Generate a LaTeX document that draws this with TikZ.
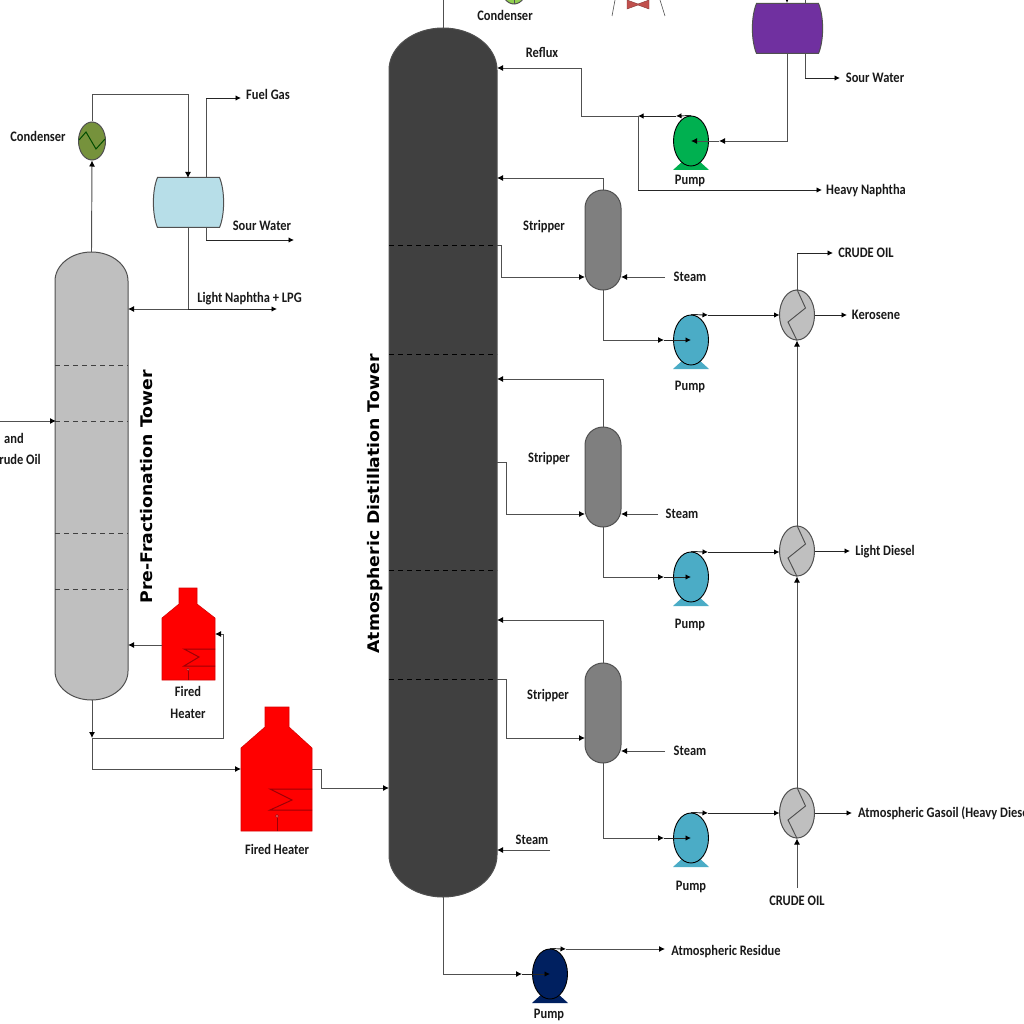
\documentclass[tikz,border=0pt]{standalone}
\usepackage{fontspec}
\setmainfont{Carlito}[FakeStretch=0.86]
\newfontfamily\towerfont{DejaVu Sans}[FakeStretch=1.08]
\usetikzlibrary{arrows.meta,shapes.geometric}
\definecolor{linegray}{HTML}{505050}
\definecolor{towerdark}{HTML}{404040}
\definecolor{towerlight}{HTML}{BFBFBF}
\definecolor{stripgray}{HTML}{7F7F7F}
\definecolor{coilred}{HTML}{9C0006}
\definecolor{pumpteal}{HTML}{4BACC6}
\definecolor{pumpgreen}{HTML}{00B050}
\definecolor{pumpnavy}{HTML}{002060}
\definecolor{condolive}{HTML}{76923C}
\definecolor{condlime}{HTML}{92D050}
\definecolor{drumblue}{HTML}{B7DEE8}
\definecolor{drumpurple}{HTML}{7030A0}
\definecolor{valvered}{HTML}{C0504D}
\tikzset{
  pipe/.style={draw=linegray,line width=0.95pt},
  flow/.style={pipe,-{Latex[length=6pt,width=6pt,black]}},
  outflow/.style={draw=black!85,line width=0.95pt,-{Latex[length=5.5pt,width=5.5pt,black]}},
  lab/.style={font=\fontsize{14.5}{15}\selectfont\bfseries,inner sep=0pt,text=black!90,align=center,text height=11pt,text depth=2pt},
  towerlab/.style={font=\fontsize{16}{17}\towerfont\bfseries,inner sep=0pt,rotate=90},
  tray/.style={draw=black!75,line width=0.8pt,dash pattern=on 5pt off 4pt},
  wall/.style={draw=linegray,line width=1pt},
  pumpcase/.style={ellipse,draw=black,line width=0.9pt,minimum width=35pt,minimum height=50pt,inner sep=0pt},
  exch/.style={ellipse,draw=linegray,line width=1pt,fill=towerlight,minimum width=35pt,minimum height=50pt,inner sep=0pt},
  coil/.style={draw=coilred,line width=1pt},
}
% vessel with elliptical heads: name, centre x, top, bottom, radius x, radius y, fill
\newcommand{\vessel}[7]{%
  \node[minimum width=2*#5 pt,minimum height=#4 pt-#3 pt,inner sep=0pt] (#1) at ({#2},{(#3+#4)/2}) {};
  \draw[wall,fill=#7] ({#2-#5},{#3+#6}) arc[start angle=180,end angle=0,x radius=#5 pt,y radius=#6 pt]
    -- ({#2+#5},{#4-#6}) arc[start angle=0,end angle=-180,x radius=#5 pt,y radius=#6 pt] -- cycle;
}
% pump: name, centre x, centre y, fill
\newcommand{\pumpunit}[4]{%
  \fill[#4] ({#2-18},{#3+29}) -- ({#2-7},{#3+19}) -- ({#2+7},{#3+19}) -- ({#2+18},{#3+29}) -- cycle;
  \node[pumpcase,fill=#4] (#1) at (#2,#3) {};
}
% reflux drum with bulged ends: name, centre x, centre y, fill
\newcommand{\drumunit}[4]{%
  \node[minimum width=71pt,minimum height=50pt,inner sep=0pt] (#1) at (#2,#3) {};
  \draw[wall,fill=#4] ({#2-31},{#3-25}) -- ({#2+31},{#3-25})
    .. controls ({#2+36.5},{#3-12}) and ({#2+36.5},{#3+12}) .. ({#2+31},{#3+25})
    -- ({#2-31},{#3+25})
    .. controls ({#2-36.5},{#3+12}) and ({#2-36.5},{#3-12}) .. ({#2-31},{#3-25}) -- cycle;
}
% exchanger shell with its internal tube
\newcommand{\hxunit}[3]{%
  \node[exch] (#1) at (#2,#3) {};
  \draw[pipe] (#1.north) -- ({#2+8.5},{#3-7}) -- ({#2-9},{#3+7}) -- (#1.south);
}
\begin{document}
\begin{tikzpicture}[x=1pt,y=-1pt]
\useasboundingbox (0,0) rectangle (1024,1024);
\clip (0,0) rectangle (1024,1024);
\fill[white] (0,0) rectangle (1024,1024);

% ---- pre-fractionation section ----
\vessel{pre}{91.5}{252}{700}{36.5}{29}{towerlight}
\foreach \yy in {365,421,533,589} \draw[tray] (55,\yy) -- (128,\yy);
\node[ellipse,draw=linegray,line width=1pt,fill=condolive,minimum width=27pt,minimum height=38pt,inner sep=0pt] (cond1) at (92,141) {};
\draw[draw=black!70!green,line width=1pt] (79,140) -- (86,132) -- (96,149) -- (105,139);
\drumunit{drum1}{188.5}{202.5}{drumblue}

% fired heaters
\draw[draw=red!85!black,line width=0.6pt,fill=red] (162,680) -- (162,618) -- (179,604) -- (179,588) -- (197,588) -- (197,604) -- (215,618) -- (215,680) -- cycle;
\node[minimum width=53pt,minimum height=62pt,inner sep=0pt] (heat1) at (188.5,649) {};
\draw[coil] (215,649) -- (184,649) -- (199,657) -- (184,666) -- (215,666);
\draw[coil] (188,680) -- (188,671);
\draw[coil,fill=red!40!white,line width=0.5pt] (188,669.5) circle[radius=1.3pt];

\draw[draw=red!85!black,line width=0.6pt,fill=red] (241,831) -- (241,748) -- (265,727) -- (265,707) -- (289,707) -- (289,727) -- (312,748) -- (312,831) -- cycle;
\node[minimum width=71pt,minimum height=83pt,inner sep=0pt] (heat2) at (276.5,789.5) {};
\draw[coil] (312,789) -- (270,789) -- (292,800) -- (270,810) -- (312,810);
\draw[coil] (277,831) -- (277,818);
\draw[coil,fill=red!40!white,line width=0.5pt] (277,816) circle[radius=1.5pt];

% ---- atmospheric tower ----
\vessel{atm}{443}{28}{897}{54}{42}{towerdark}
\foreach \yy in {245,354,570,679} \draw[tray,draw=black] (389,\yy) -- (497,\yy);

% ---- side strippers ----
\vessel{strip1}{603}{190}{290}{18}{18}{stripgray}
\vessel{strip2}{603}{427}{527}{18}{18}{stripgray}
\vessel{strip3}{603}{663}{763}{18}{18}{stripgray}

% ---- pumps and exchangers ----
\pumpunit{pump0}{691}{141}{pumpgreen}
\pumpunit{pump1}{691}{340}{pumpteal}
\pumpunit{pump2}{691}{577}{pumpteal}
\pumpunit{pump3}{691}{838}{pumpteal}
\pumpunit{pump4}{550}{974}{pumpnavy}
\hxunit{hx1}{797}{315}
\hxunit{hx2}{797}{551}
\hxunit{hx3}{797}{813}

% ---- overhead equipment running off the sheet ----
\node[ellipse,draw=linegray,line width=1pt,fill=condlime,minimum width=27pt,minimum height=38pt,inner sep=0pt] (cond2) at (514,-15) {};
\draw[linegray,line width=0.6pt] (514,-15) -- (514,4);
\coordinate (atmtop) at (443,0);
\draw[pipe] (atm.north) -- (atmtop);
\drumunit{drum2}{787.5}{28.5}{drumpurple}
\node[minimum width=22pt,minimum height=9pt,inner sep=0pt] (valve) at (638,4) {};
\draw[draw=valvered!70!black,line width=0.4pt,fill=valvered] (627,0) -- (638,4) -- (649,0) -- (649,9) -- (638,5) -- (627,9) -- cycle;
\coordinate (ta) at (615,0); \coordinate (tb) at (612,16);
\coordinate (tc) at (660,0); \coordinate (td) at (665,16);
\draw[linegray,line width=0.6pt] (ta) -- (tb) (tc) -- (td);
\coordinate (d2in) at (787,3); \coordinate (d2up) at (787,-6);
\draw[flow] (d2up) -- (d2in);
\coordinate (d2gas) at (805,3); \coordinate (d2gasup) at (805,0);
\draw[pipe] (d2gas) -- (d2gasup);

% ---- pre-fractionation piping ----
\coordinate (p1) at (92,94); \coordinate (p2) at (188,94);
\coordinate (d1in) at (188,178);
\draw[flow] (pre.north) -- (cond1.south);
\draw[flow] (cond1.north) -- (p1) -- (p2) -- (d1in);
\coordinate (d1gas) at (206,178); \coordinate (g1) at (206,98); \coordinate (fuel) at (241,98);
\draw[pipe] (d1gas) -- (g1);
\draw[outflow] (g1) -- (fuel);
\coordinate (d1w) at (206,227); \coordinate (w1) at (206,240); \coordinate (w2) at (294,240);
\draw[pipe] (d1w) -- (w1);
\draw[outflow] (w1) -- (w2);
\coordinate (d1out) at (188,227); \coordinate (j1) at (188,309);
\coordinate (prer) at (128,309); \coordinate (lpg) at (277,309);
\draw[pipe] (d1out) -- (j1);
\draw[flow] (j1) -- (prer);
\draw[outflow] (j1) -- (lpg);
\coordinate (feed0) at (0,421); \coordinate (feed1) at (56,421);
\draw[flow] (feed0) -- (feed1);
\coordinate (rb0) at (162,645); \coordinate (rb1) at (128,645);
\draw[flow] (rb0) -- (rb1);
\coordinate (b0) at (92,700); \coordinate (b1) at (92,738);
\coordinate (b2) at (223,738); \coordinate (b3) at (223,634); \coordinate (b4) at (215,634);
\draw[flow] (b0) -- (b1);
\draw[pipe] (b1) -- (b2) -- (b3);
\draw[flow] (b3) -- (b4);
\coordinate (b5) at (92,769); \coordinate (b6) at (241,769);
\draw[flow] (b1) -- (b5) -- (b6);
\coordinate (c0) at (312,769); \coordinate (c1) at (321,769); \coordinate (c2) at (321,788); \coordinate (c3) at (389,788);
\draw[flow] (c0) -- (c1) -- (c2) -- (c3);

% ---- overhead and reflux ----
\coordinate (o0) at (787,54); \coordinate (o1) at (787,141); \coordinate (o2) at (719,141);
\draw[flow] (o0) -- (o1) -- (o2);
\draw[flow] (o2) -- (pump0.center);
\coordinate (sw0) at (805,54); \coordinate (sw1) at (805,78); \coordinate (sw2) at (840,78);
\draw[pipe] (sw0) -- (sw1);
\draw[outflow] (sw1) -- (sw2);
\coordinate (r1) at (676,116); \coordinate (r2) at (638,116);
\coordinate (r3) at (581,116); \coordinate (r4) at (581,68); \coordinate (r5) at (497,68);
\draw[outflow] (pump0.north) -- (r1);
\draw[outflow] (r1) -- (r2);
\draw[flow] (r2) -- (r3) -- (r4) -- (r5);
\coordinate (n1) at (638,190); \coordinate (n2) at (822,190);
\draw[pipe] (r2) -- (n1);
\draw[outflow] (n1) -- (n2);

% ---- stripper 1 ----
\coordinate (s1a) at (603,178); \coordinate (s1b) at (497,178);
\draw[flow] (strip1.north) -- (s1a) -- (s1b);
\coordinate (s1c) at (497,245); \coordinate (s1d) at (501,245); \coordinate (s1e) at (501,277); \coordinate (s1f) at (585,277);
\draw[flow] (s1c) -- (s1d) -- (s1e) -- (s1f);
\coordinate (st1a) at (665,277); \coordinate (st1b) at (621,277);
\draw[flow] (st1a) -- (st1b);
\coordinate (s1g) at (603,340); \coordinate (s1h) at (664,340);
\draw[flow] (strip1.south) -- (s1g) -- (s1h);
\draw[outflow] (s1h) -- (pump1.center);
\coordinate (s1i) at (708,315); \coordinate (s1j) at (779.5,315);
\draw[outflow] (pump1.north) -- (s1i);
\draw[outflow] (s1i) -- (s1j);
\coordinate (k0) at (814.5,315); \coordinate (k1) at (847,315);
\draw[outflow] (k0) -- (k1);
\coordinate (co1) at (797,253); \coordinate (co2) at (833,253);
\draw[pipe] (hx1.north) -- (co1);
\draw[outflow] (co1) -- (co2);

% ---- stripper 2 ----
\coordinate (s2a) at (603,379); \coordinate (s2b) at (497,379);
\draw[flow] (strip2.north) -- (s2a) -- (s2b);
\coordinate (s2c) at (497,462); \coordinate (s2d) at (506,462); \coordinate (s2e) at (506,514); \coordinate (s2f) at (585,514);
\draw[flow] (s2c) -- (s2d) -- (s2e) -- (s2f);
\coordinate (st2a) at (658,514); \coordinate (st2b) at (621,514);
\draw[flow] (st2a) -- (st2b);
\coordinate (s2g) at (603,577); \coordinate (s2h) at (664,577);
\draw[flow] (strip2.south) -- (s2g) -- (s2h);
\draw[outflow] (s2h) -- (pump2.center);
\coordinate (s2i) at (708,552); \coordinate (s2j) at (779.5,552);
\draw[outflow] (pump2.north) -- (s2i);
\draw[outflow] (s2i) -- (s2j);
\coordinate (l0) at (814.5,551); \coordinate (l1) at (850,551);
\draw[outflow] (l0) -- (l1);
\draw[flow] (hx2.north) -- (hx1.south);

% ---- stripper 3 ----
\coordinate (s3a) at (603,620); \coordinate (s3b) at (497,620);
\draw[flow] (strip3.north) -- (s3a) -- (s3b);
\coordinate (s3c) at (497,679); \coordinate (s3d) at (506,679); \coordinate (s3e) at (506,738); \coordinate (s3f) at (585,738);
\draw[flow] (s3c) -- (s3d) -- (s3e) -- (s3f);
\coordinate (st3a) at (665,751); \coordinate (st3b) at (621,751);
\draw[flow] (st3a) -- (st3b);
\coordinate (s3g) at (603,838); \coordinate (s3h) at (664,838);
\draw[flow] (strip3.south) -- (s3g) -- (s3h);
\draw[outflow] (s3h) -- (pump3.center);
\coordinate (s3i) at (708,813); \coordinate (s3j) at (779.5,813);
\draw[outflow] (pump3.north) -- (s3i);
\draw[outflow] (s3i) -- (s3j);
\coordinate (a0) at (814.5,813); \coordinate (a1) at (852,813);
\draw[outflow] (a0) -- (a1);
\draw[flow] (hx3.north) -- (hx2.south);
\coordinate (co3) at (797,888);
\draw[flow] (co3) -- (hx3.south);

% ---- tower bottom ----
\coordinate (st4a) at (550,850); \coordinate (st4b) at (497,850);
\draw[flow] (st4a) -- (st4b);
\coordinate (t1) at (443,974); \coordinate (t2) at (522,974);
\draw[flow] (atm.south) -- (t1) -- (t2);
\draw[outflow] (t2) -- (pump4.center);
\coordinate (t3) at (566,949); \coordinate (t4) at (665,949);
\draw[outflow] (pump4.north) -- (t3);
\draw[flow] (t3) -- (t4);

% ---- labels ----
\node[towerlab] (tl1) at (147,487) {Pre-Fractionation Tower};
\node[towerlab] (tl2) at (375,504) {Atmospheric Distillation Tower};
\node[lab] (l01) at (505,16) {Condenser};
\node[lab] (l02) at (542,53) {Reflux};
\node[lab] (l03) at (875,78) {Sour Water};
\node[lab] (l04) at (690,180) {Pump};
\node[lab] (l05) at (866,190) {Heavy Naphtha};
\node[lab] (l06) at (268,95) {Fuel Gas};
\node[lab] (l07) at (38,137) {Condenser};
\node[lab] (l08) at (262,226) {Sour Water};
\node[lab] (l09) at (249.5,298) {Light Naphtha + LPG};
\node[lab] (l10) at (544,226) {Stripper};
\node[lab] (l11) at (690,277) {Steam};
\node[lab] (l12) at (866,253) {CRUDE OIL};
\node[lab] (l13) at (876,315) {Kerosene};
\node[lab] (l14) at (690,386) {Pump};
\node[lab] (l15) at (549,458) {Stripper};
\node[lab] (l16) at (682,514) {Steam};
\node[lab] (l17) at (885,551) {Light Diesel};
\node[lab] (l18) at (690,624) {Pump};
\node[lab] (l19) at (548,695) {Stripper};
\node[lab] (l20) at (690,751) {Steam};
\node[lab,anchor=west] (l21) at (858,813) {Atmospheric Gasoil (Heavy Diesel};
\node[lab] (l22) at (532,840) {Steam};
\node[lab] (l23) at (691,886) {Pump};
\node[lab] (l24) at (797,901) {CRUDE OIL};
\node[lab] (l25) at (726,951) {Atmospheric Residue};
\node[lab] (l26) at (549,1014) {Pump};
\node[lab] (l27) at (188,692) {Fired};
\node[lab] (l28) at (188,714) {Heater};
\node[lab] (l29) at (277,850) {Fired Heater};
\node[lab] (l30) at (14,439) {and};
\node[lab,anchor=east] (l31) at (41,460) {rude Oil};
\end{tikzpicture}
\end{document}
